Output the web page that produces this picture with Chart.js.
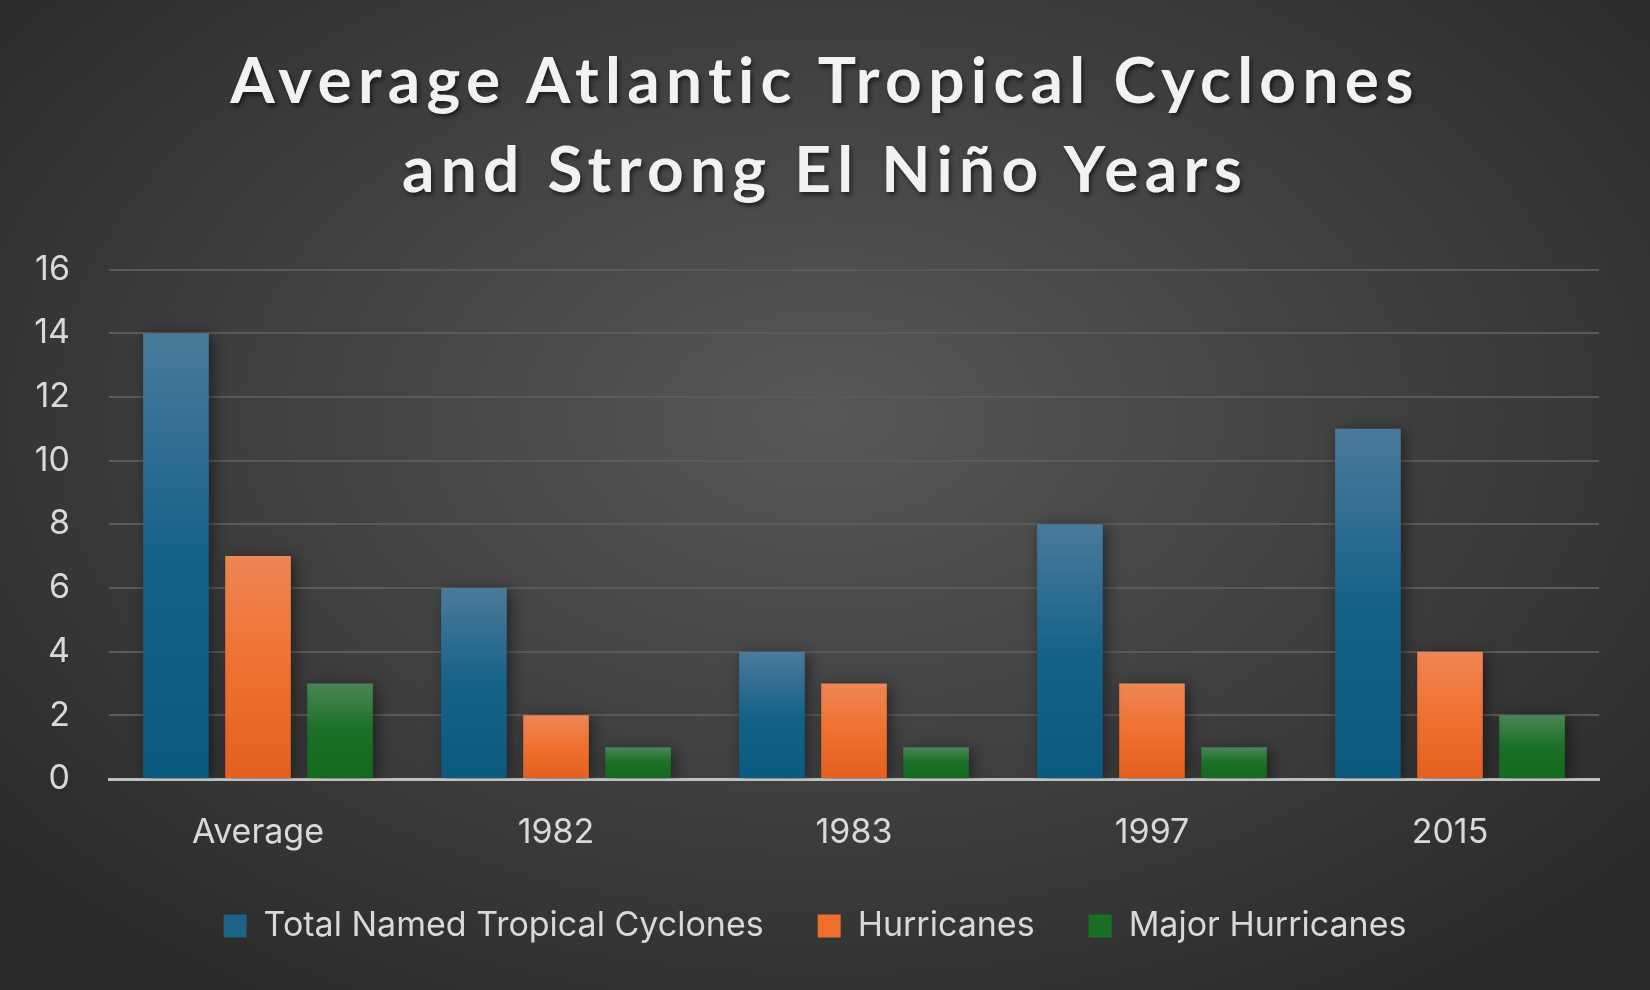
<!DOCTYPE html>
<html>
<head>
<meta charset="utf-8">
<script src="https://cdn.jsdelivr.net/npm/chart.js@4.4.1/dist/chart.umd.min.js"></script>
<style>
    html, body {
        margin: 0;
        padding: 0;
        width: 1650px;
        height: 990px;
        overflow: hidden;
        background: radial-gradient(ellipse 65% 70% at 50% 42%, #585858 0%, #414141 50%, #2a2a2a 100%);
    }
    #title {
        position: absolute;
        left: 0;
        top: 34px;
        width: 1650px;
        text-align: center;
        font-family: Lato, sans-serif;
        font-weight: 700;
        font-size: 64px;
        line-height: 89px;
        letter-spacing: 6.3px;
        color: #f2f2f2;
        text-shadow: 2px 3px 4px rgba(0, 0, 0, 0.55);
        margin: 0;
    }
    #wrap {
        position: absolute;
        left: 0;
        top: 0;
        width: 1650px;
        height: 990px;
    }
</style>
</head>
<body>
<h1 id="title">Average Atlantic Tropical Cyclones<br>and Strong El Niño Years</h1>
<div id="wrap"><canvas id="cycloneChart"></canvas></div>
<script>
var categories = ['Average', '1982', '1983', '1997', '2015'];
var totalNamed = [14, 6, 4, 8, 11];
var hurricanes = [7, 2, 3, 3, 4];
var majorHurricanes = [3, 1, 1, 1, 2];
var yTicks = [0, 2, 4, 6, 8, 10, 12, 14, 16];

// vertical gradient per bar, light at the top, dark at the base
function barGradient(top, mid, bottom) {
    return function(ctx) {
        var chart = ctx.chart;
        if (ctx.type !== 'data' || !chart.chartArea) return mid;
        var y = chart.scales.y;
        var yTop = y.getPixelForValue(ctx.raw);
        var yBase = y.getPixelForValue(0);
        if (yBase - yTop < 1) return mid;
        var g = chart.ctx.createLinearGradient(0, yTop, 0, yBase);
        g.addColorStop(0, top);
        g.addColorStop(0.5, mid);
        g.addColorStop(1, bottom);
        return g;
    };
}

var barShadow = {
    id: 'barShadow',
    beforeDatasetsDraw: function(chart) {
        var c = chart.ctx;
        c.save();
        c.shadowColor = 'rgba(0, 0, 0, 0.45)';
        c.shadowBlur = 14;
        c.shadowOffsetX = 4;
        c.shadowOffsetY = 2;
    },
    afterDatasetsDraw: function(chart) {
        chart.ctx.restore();
    }
};

Chart.defaults.font.family = 'Inter, sans-serif';
Chart.defaults.color = '#d9d9d9';

var ctx = document.getElementById('cycloneChart').getContext('2d');
var cycloneChart = new Chart(ctx, {
    type: 'bar',
    data: {
        labels: categories,
        datasets: [{
            label: 'Total Named Tropical Cyclones',
            data: totalNamed,
            backgroundColor: barGradient('#4b7a9a', '#156289', '#0a597f'),
            borderWidth: 0
        }, {
            label: 'Hurricanes',
            data: hurricanes,
            backgroundColor: barGradient('#ee8655', '#f0712f', '#e45f1e'),
            borderWidth: 0
        }, {
            label: 'Major Hurricanes',
            data: majorHurricanes,
            backgroundColor: barGradient('#4b8556', '#1a7026', '#136a1d'),
            borderWidth: 0
        }]
    },
    options: {
        responsive: true,
        maintainAspectRatio: false,
        animation: false,
        categoryPercentage: 0.826,
        barPercentage: 0.8,
        layout: {
            padding: { top: 269.5, left: 31, right: 51, bottom: 37 }
        },
        plugins: {
            title: { display: false },
            tooltip: { enabled: false },
            legend: {
                position: 'bottom',
                labels: {
                    color: '#d9d9d9',
                    font: { size: 34 },
                    boxWidth: 23,
                    boxHeight: 23,
                    padding: 54,
                    generateLabels: function(chart) {
                        var solid = ['#1d6388', '#ee6f2c', '#1a6f25'];
                        return chart.data.datasets.map(function(ds, i) {
                            return {
                                text: ds.label,
                                fillStyle: solid[i],
                                strokeStyle: solid[i],
                                lineWidth: 0,
                                fontColor: '#d9d9d9',
                                datasetIndex: i
                            };
                        });
                    }
                }
            }
        },
        scales: {
            x: {
                grid: { display: false, drawTicks: false },
                border: { display: true, color: '#bfbfbf', width: 3 },
                ticks: {
                    color: '#d9d9d9',
                    font: { size: 34 },
                    padding: 33
                },
                afterFit: function(scale) {
                    scale.height = 76;
                }
            },
            y: {
                min: 0,
                max: 16,
                afterBuildTicks: function(scale) {
                    scale.ticks = yTicks.map(function(v) { return { value: v }; });
                },
                afterFit: function(scale) {
                    scale.width = 78;
                },
                grid: { color: '#5a5a5a', lineWidth: 2, drawTicks: false },
                border: { display: false },
                ticks: {
                    color: '#d9d9d9',
                    font: { size: 34 },
                    padding: 39
                }
            }
        }
    },
    plugins: [barShadow]
});
</script>
</body>
</html>
